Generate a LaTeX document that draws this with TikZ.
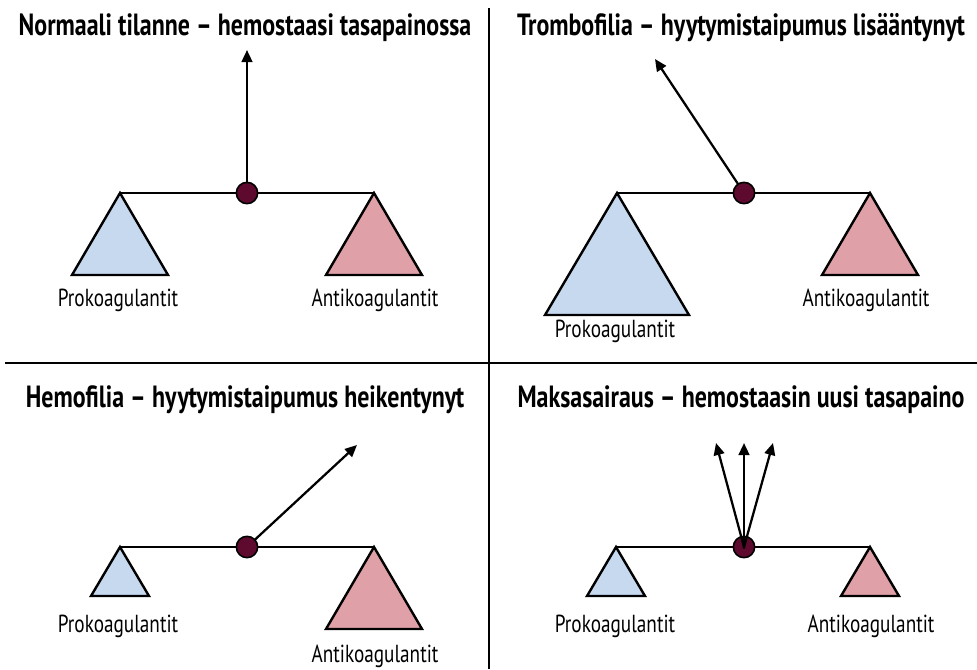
\documentclass[tikz,border=0pt]{standalone}
\usepackage{fontspec}
\setmainfont{PT Sans}[FakeStretch=0.78]
\usetikzlibrary{arrows.meta}
\definecolor{problue}{HTML}{C6D9EF}
\definecolor{antipink}{HTML}{E0A0A8}
\definecolor{pivotred}{HTML}{5E0A2E}
\tikzstyle{heading} = [font=\bfseries\fontsize{23}{26}\selectfont, inner sep=0pt, anchor=base]
\tikzstyle{caption} = [font=\fontsize{18.5}{21}\selectfont, inner sep=0pt, anchor=base]
\tikzstyle{pro} = [draw, line width=1.8pt, line join=miter, fill=problue]
\tikzstyle{anti} = [draw, line width=1.8pt, line join=miter, fill=antipink]
\tikzstyle{beam} = [line width=1.8pt]
\tikzstyle{pivot} = [circle, draw, line width=1.2pt, fill=pivotred, minimum size=16pt, inner sep=0pt]
\tikzstyle{arrow} = [-{Triangle[length=9pt,width=8pt]}, line width=1.7pt, shorten <=-1pt]
\tikzstyle{divider} = [line width=1.8pt]

\begin{document}
\begin{tikzpicture}[x=0.75pt, y=-0.75pt]
				\useasboundingbox (0,0) rectangle (977,669);
				% dividers
				\draw [divider] (489,8) -- (489,669);
				\draw [divider] (5,363) -- (977,363);
				
				% normaali
				\node (normal)[heading] at (245,35) {Normaali tilanne -- hemostaasi tasapainossa};
				\coordinate (normalL) at (120,193);
				\coordinate (normalR) at (374,193);
				\coordinate (normalTip) at (247,50);
				\draw [pro] (normalL) -- ++(-48,82) -- ++(96,0) -- cycle;
				\draw [anti] (normalR) -- ++(-48,82) -- ++(96,0) -- cycle;
				\draw [beam] (normalL) -- (normalR);
				\node (normalP)[pivot] at (247,193) {};
				\draw [arrow] (normalP) -- (normalTip);
				\node (normalPro)[caption] at (118,306) {Prokoagulantit};
				\node (normalAnti)[caption] at (375,306) {Antikoagulantit};
				
				% trombofilia
				\node (trombo)[heading] at (741,35) {Trombofilia -- hyytymistaipumus lisääntynyt};
				\coordinate (tromboL) at (617,193);
				\coordinate (tromboR) at (870,193);
				\coordinate (tromboTip) at (655,59);
				\draw [pro] (tromboL) -- ++(-72,122) -- ++(144,0) -- cycle;
				\draw [anti] (tromboR) -- ++(-48,82) -- ++(96,0) -- cycle;
				\draw [beam] (tromboL) -- (tromboR);
				\node (tromboP)[pivot] at (744,193) {};
				\draw [arrow] (tromboP) -- (tromboTip);
				\node (tromboPro)[caption] at (615,337) {Prokoagulantit};
				\node (tromboAnti)[caption] at (866,306) {Antikoagulantit};
				
				% hemofilia
				\node (hemo)[heading] at (245,407) {Hemofilia -- hyytymistaipumus heikentynyt};
				\coordinate (hemoL) at (120,547);
				\coordinate (hemoR) at (374,547);
				\coordinate (hemoTip) at (357,445);
				\draw [pro] (hemoL) -- ++(-29,49) -- ++(58,0) -- cycle;
				\draw [anti] (hemoR) -- ++(-48,82) -- ++(96,0) -- cycle;
				\draw [beam] (hemoL) -- (hemoR);
				\node (hemoP)[pivot] at (247,547) {};
				\draw [arrow] (hemoP) -- (hemoTip);
				\node (hemoPro)[caption] at (118,632) {Prokoagulantit};
				\node (hemoAnti)[caption] at (375,662) {Antikoagulantit};
				
				% maksasairaus
				\node (maksa)[heading] at (741,407) {Maksasairaus -- hemostaasin uusi tasapaino};
				\coordinate (maksaL) at (616,547);
				\coordinate (maksaR) at (870,547);
				\coordinate (maksaTipA) at (716,443);
				\coordinate (maksaTipB) at (744,443);
				\coordinate (maksaTipC) at (773,443);
				\draw [pro] (maksaL) -- ++(-29,49) -- ++(58,0) -- cycle;
				\draw [anti] (maksaR) -- ++(-29,49) -- ++(58,0) -- cycle;
				\draw [beam] (maksaL) -- (maksaR);
				\node (maksaP)[pivot] at (744,547) {};
				\draw [arrow] (maksaP.center) -- (maksaTipA);
				\draw [arrow] (maksaP.center) -- (maksaTipB);
				\draw [arrow] (maksaP.center) -- (maksaTipC);
				\node (maksaPro)[caption] at (615,632) {Prokoagulantit};
				\node (maksaAnti)[caption] at (871,632) {Antikoagulantit};
			\end{tikzpicture}
\end{document}
